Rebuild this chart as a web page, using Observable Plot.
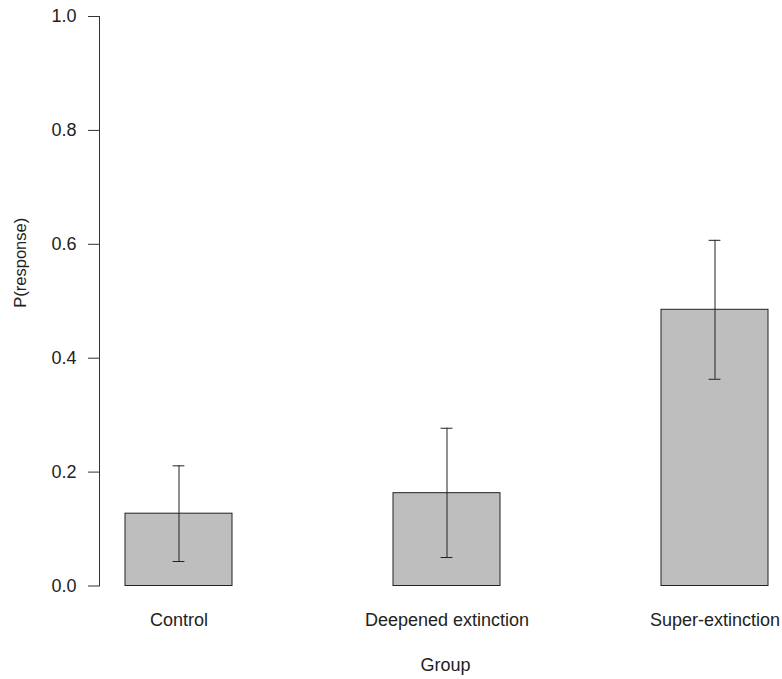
<!DOCTYPE html>
<html>
<head>
<meta charset="utf-8">
<script src="https://cdn.jsdelivr.net/npm/d3@7"></script>
<script src="https://cdn.jsdelivr.net/npm/@observablehq/plot@0.6"></script>
<style>
  html, body { margin: 0; padding: 0; background: #fff; }
  #chart svg { display: block; }
</style>
</head>
<body>
<div id="chart"></div>
<script>
const groups = ["Control", "Deepened extinction", "Super-extinction"];
const pResponse = [0.127, 0.163, 0.485];
const ciLow = [0.043, 0.050, 0.363];
const ciHigh = [0.211, 0.277, 0.607];
const yTicks = [0, 0.2, 0.4, 0.6, 0.8, 1.0];
const xLabel = "Group";
const yLabel = "P(response)";

const data = groups.map((g, i) => ({group: g, p: pResponse[i], lo: ciLow[i], hi: ciHigh[i]}));

const capWidth = 12;
const bandwidth = 268 * 0.4;
const capInset = (bandwidth - capWidth) / 2;

const chart = Plot.plot({
  width: 782,
  height: 679,
  marginLeft: 99,
  marginRight: 14,
  marginTop: 16,
  marginBottom: 93.5,
  style: {fontFamily: "'Liberation Sans', Arial, sans-serif", fontSize: "18px", color: "#222", background: "#fff"},
  x: {domain: groups, paddingInner: 0.6, paddingOuter: 0.048, align: 1, axis: null},
  y: {domain: [0, 1], axis: null},
  marks: [
    Plot.barY(data, {x: "group", y: "p", fill: "#bebebe", stroke: "#222", strokeWidth: 1}),
    Plot.ruleX(data, {x: "group", y1: "lo", y2: "hi", stroke: "#222", strokeWidth: 1}),
    Plot.tickY(data, {x: "group", y: "hi", stroke: "#222", insetLeft: capInset, insetRight: capInset}),
    Plot.tickY(data, {x: "group", y: "lo", stroke: "#222", insetLeft: capInset, insetRight: capInset}),
    Plot.frame({anchor: "left", stroke: "#333"}),
    Plot.axisY({ticks: yTicks, tickSize: 11, tickPadding: 12, tickFormat: d3.format(".1f"), label: null, fontSize: 18, stroke: "#333"}),
    Plot.axisX({tickSize: 0, tickPadding: 27.5, label: null, fontSize: 18}),
    Plot.text([xLabel], {frameAnchor: "bottom", dx: 11.5, dy: 84.5, fontSize: 18, fill: "#222"}),
    Plot.text([yLabel], {frameAnchor: "left", textAnchor: "middle", rotate: -90, dx: -79, dy: -38.5, fontSize: 16.5, fill: "#222"})
  ]
});
document.getElementById("chart").appendChild(chart);
</script>
</body>
</html>
